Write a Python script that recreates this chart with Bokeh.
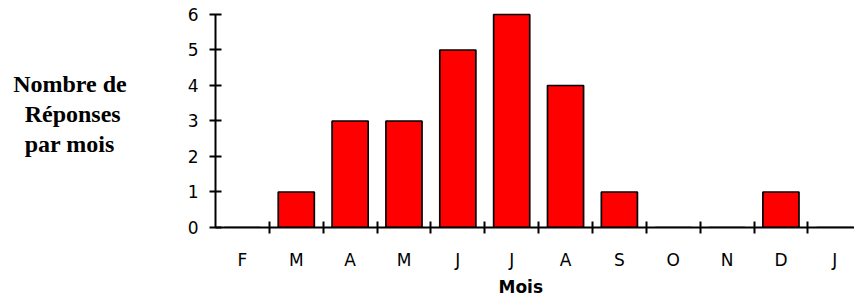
from bokeh.plotting import figure
from bokeh.models import Range1d, FixedTicker, Title
from bokeh.embed import file_html
from bokeh.resources import INLINE

months = ["F", "M", "A", "M", "J", "J", "A", "S", "O", "N", "D", "J"]
responses = [0, 1, 3, 3, 5, 6, 4, 1, 0, 0, 1, 0]
y_ticks = [0, 1, 2, 3, 4, 5, 6]
y_title_lines = ["Nombre de", "Réponses\u00a0", "par mois\u00a0\u00a0"]
x_title = "Mois"

x_pos = [i + 0.5 for i in range(len(months))]
boundaries = [i + 1 for i in range(len(months))]

p = figure(width=854, height=298, output_backend="svg", toolbar_location=None,
           x_range=Range1d(0, 11.866), y_range=Range1d(0, 6.394),
           min_border_left=215, min_border_right=0, min_border_top=0,
           min_border_bottom=71)
p.outline_line_color = None
p.xgrid.visible = False
p.ygrid.visible = False

p.vbar(x=x_pos, top=responses, bottom=0, width=0.67,
       fill_color="#ff0000", line_color="black", line_width=1.7)

ya = p.yaxis[0]
ya.ticker = FixedTicker(ticks=y_ticks)
ya.bounds = (0, 6)
ya.axis_line_width = 2
ya.major_tick_line_width = 2
ya.major_tick_in = 6
ya.major_tick_out = 6
ya.minor_tick_line_color = None
ya.major_label_standoff = 11
ya.major_label_text_font = "DejaVu Sans"
ya.major_label_text_font_size = "17px"
ya.major_label_text_color = "black"
ya.axis_label = "\n".join(y_title_lines)
ya.axis_label_orientation = "horizontal"
ya.axis_label_standoff = 58
ya.axis_label_text_font = "Liberation Serif"
ya.axis_label_text_font_style = "bold"
ya.axis_label_text_font_size = "24px"
ya.axis_label_text_line_height = 1.15
ya.axis_label_text_color = "black"

xa = p.xaxis[0]
xa.ticker = FixedTicker(ticks=x_pos, minor_ticks=boundaries)
xa.major_label_overrides = {x: m for x, m in zip(x_pos, months)}
xa.axis_line_width = 2
xa.major_tick_in = 0
xa.major_tick_out = 0
xa.minor_tick_in = 6
xa.minor_tick_out = 6
xa.minor_tick_line_width = 2
xa.major_label_standoff = 16
xa.major_label_text_font = "DejaVu Sans"
xa.major_label_text_font_size = "17px"
xa.major_label_text_color = "black"

p.add_layout(Title(text=x_title, align="left", offset=283, standoff=4,
                   text_font="DejaVu Sans", text_font_style="bold",
                   text_font_size="17px", text_color="black"), "below")

open("out.html", "w").write(file_html(p, INLINE))
